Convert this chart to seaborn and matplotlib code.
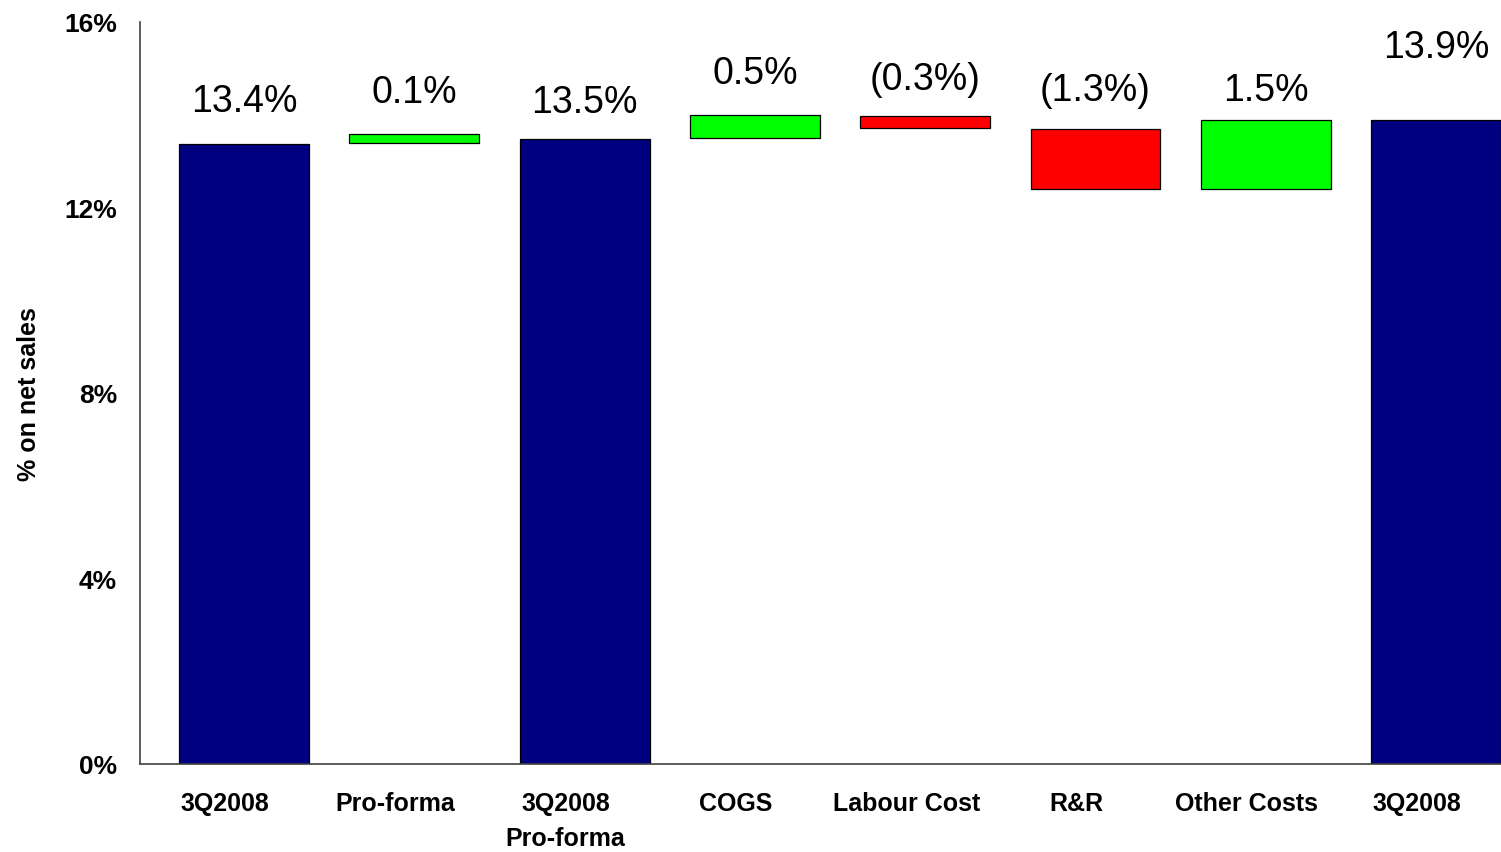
import numpy as np
import pandas as pd
import matplotlib
matplotlib.use("Agg")
import matplotlib.pyplot as plt
import seaborn as sns
from matplotlib.transforms import ScaledTranslation

# ---- data ----
categories = ["3Q2008", "Pro-forma", "3Q2008\nPro-forma", "COGS",
              "Labour Cost", "R&R", "Other Costs", "3Q2008"]
bar_bottom = [0.0, 13.38, 0.0, 13.50, 13.70, 12.40, 12.40, 0.0]
bar_top = [13.37, 13.58, 13.48, 13.98, 13.96, 13.69, 13.89, 13.89]
value_labels = ["13.4%", "0.1%", "13.5%", "0.5%", "(0.3%)", "(1.3%)", "1.5%", "13.9%"]
bar_kind = ["total", "increase", "total", "increase", "decrease", "decrease", "increase", "total"]
y_ticks = [0, 4, 8, 12, 16]
y_tick_labels = ["0%", "4%", "8%", "12%", "16%"]
y_label = "% on net sales"

# ---- style ----
kind_colors = {"total": "#000080", "increase": "#00FF00", "decrease": "#FF0000"}
label_pad_px = [33, 32, 27, 32, 27, 29, 20, 63]

sns.set_theme(style="white")
plt.rcParams["font.family"] = ["Liberation Sans", "DejaVu Sans"]
plt.rcParams["text.color"] = "black"
plt.rcParams["axes.labelcolor"] = "black"
plt.rcParams["xtick.color"] = "black"
plt.rcParams["ytick.color"] = "black"

W, H = 1501, 853
fig = plt.figure(figsize=(W / 100, H / 100), dpi=100)
fig.patch.set_facecolor("white")
ax = fig.add_axes([140 / W, 88 / H, 1361 / W, 742.3 / H])

n = len(categories)
df = pd.DataFrame({
    "pos": [f"b{i}" for i in range(n)],
    "height": np.array(bar_top) - np.array(bar_bottom),
})
sns.barplot(data=df, x="pos", y="height", hue="pos",
            palette=[kind_colors[k] for k in bar_kind], legend=False,
            width=0.763, saturation=1, edgecolor="black", linewidth=0.9, ax=ax)

# make the bars float (waterfall)
for p in ax.patches:
    i = int(round(p.get_x() + p.get_width() / 2))
    p.set_y(bar_bottom[i])

ax.set_xlim(-0.611, 7.381)
ax.set_ylim(0, 16)

# value labels
for i in range(n):
    ax.annotate(value_labels[i], xy=(i, bar_top[i]),
                xytext=(0, label_pad_px[i] * 0.72), textcoords="offset points",
                ha="center", va="baseline", fontsize=27, color="black")

# axes styling
sns.despine(ax=ax, top=True, right=True)
for s in ("left", "bottom"):
    ax.spines[s].set_color("#404040")
    ax.spines[s].set_linewidth(1.2)
ax.tick_params(axis="both", length=0)

ax.set_yticks(y_ticks)
ax.set_yticklabels(y_tick_labels, fontsize=19, fontweight="bold", color="black")
ax.tick_params(axis="y", pad=16.5)

ax.set_xticks(range(n))
ax.set_xticklabels(categories, fontsize=18, fontweight="bold", linespacing=1.55,
                   color="black")
ax.tick_params(axis="x", pad=19.5)
shift = ScaledTranslation(-19 / 100, 0, fig.dpi_scale_trans)
for lab in ax.get_xticklabels():
    lab.set_transform(lab.get_transform() + shift)

ax.set_xlabel("")
ax.set_ylabel(y_label, fontsize=18, fontweight="bold", labelpad=17, color="black")

fig.savefig("out.png", dpi=100, facecolor="white")
